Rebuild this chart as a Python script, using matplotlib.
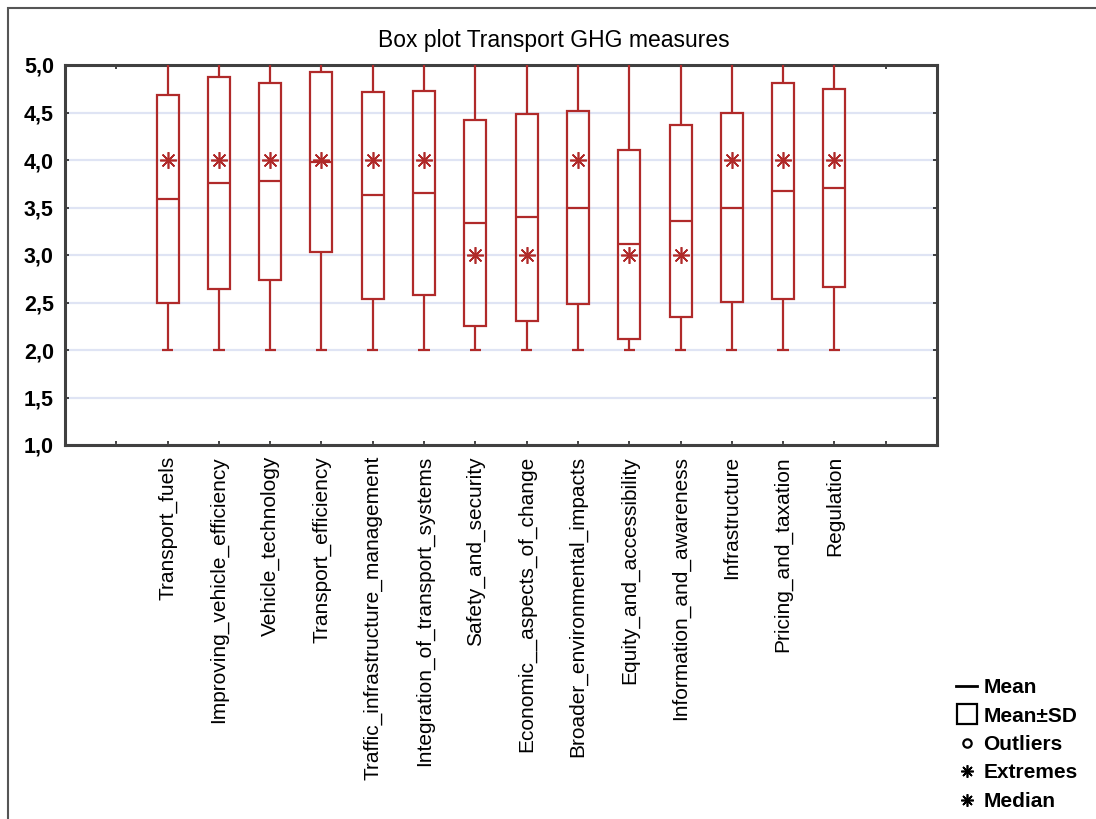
"""
Box plot of transport GHG measures (mean, mean±SD, min-max, median).
"""

import matplotlib.pyplot as plt
from matplotlib.lines import Line2D
from matplotlib.patches import Rectangle
from matplotlib.ticker import FuncFormatter

plt.rcParams['font.family'] = ['Liberation Sans', 'DejaVu Sans']

# Data
categories = [
    'Transport_fuels', 'Improving_vehicle_efficiency', 'Vehicle_technology',
    'Transport_efficiency', 'Traffic_infrastructure_management',
    'Integration_of_transport_systems', 'Safety_and_security',
    'Economic__aspects_of_change', 'Broader_environmental_impacts',
    'Equity_and_accessibility', 'Information_and_awareness',
    'Infrastructure', 'Pricing_and_taxation', 'Regulation',
]
means = [3.585, 3.755, 3.775, 3.98, 3.63, 3.655, 3.335,
         3.395, 3.50, 3.115, 3.36, 3.50, 3.675, 3.705]
sds = [1.095, 1.115, 1.035, 0.95, 1.09, 1.075, 1.085,
       1.085, 1.02, 0.995, 1.01, 0.99, 1.135, 1.045]
medians = [4, 4, 4, 4, 4, 4, 3, 3, 4, 3, 3, 4, 4, 4]
mins = [2] * 14
maxs = [5] * 14

RED = '#b02a2a'

fig = plt.figure(figsize=(10.96, 8.19), dpi=100)
ax = fig.add_axes([65 / 1096, 1 - 445 / 819, (937 - 65) / 1096, 380 / 819])

x = list(range(2, 2 + len(categories)))
lo = [m - s for m, s in zip(means, sds)]
hi = [m + s for m, s in zip(means, sds)]

# whiskers and caps
ax.vlines(x, mins, lo, color=RED, lw=1.6, zorder=3)
ax.vlines(x, hi, maxs, color=RED, lw=1.6, zorder=3)
ax.hlines(mins, [v - 0.11 for v in x], [v + 0.11 for v in x], color=RED, lw=1.6, zorder=3)

# mean ± SD boxes
ax.bar(x, [h - l for h, l in zip(hi, lo)], bottom=lo, width=0.43,
       fill=False, edgecolor=RED, lw=1.6, zorder=3)

# mean lines
ax.hlines(means, [v - 0.215 for v in x], [v + 0.215 for v in x], color=RED, lw=1.6, zorder=3)

# medians
ax.plot(x, medians, linestyle='none', marker=(8, 2, 0), markersize=12,
        markeredgewidth=1.2, color=RED, zorder=4)

ax.set_xlim(0, 17)
ax.set_ylim(1.0, 5.0)
ax.set_yticks([1.0, 1.5, 2.0, 2.5, 3.0, 3.5, 4.0, 4.5, 5.0])
ax.yaxis.set_major_formatter(FuncFormatter(lambda v, p: f'{v:.1f}'.replace('.', ',')))
ax.set_xticks(range(1, 17))
ax.set_xticklabels([''] + categories + [''], rotation=90, fontsize=15)
for lbl in ax.get_yticklabels():
    lbl.set_fontsize(15.5)
    lbl.set_fontweight('bold')

ax.tick_params(axis='both', direction='in', length=3, width=1.2,
               top=True, right=True, color='#222222')
ax.tick_params(axis='x', pad=8)
ax.tick_params(axis='y', pad=8)

ax.grid(True, axis='y', color='#dfe4f4', lw=1.6, zorder=0)
ax.set_axisbelow(True)
for sp in ax.spines.values():
    sp.set_color('#404040')
    sp.set_linewidth(2.2)

fig.text(554 / 1096, 1 - 40 / 819, 'Box plot Transport GHG measures',
         fontsize=16.5, ha='center', va='center')

# legend
handles = [
    Line2D([], [], color='k', lw=2),
    Line2D([], [], linestyle='none', marker='s', markersize=15,
           markerfacecolor='none', markeredgecolor='k', markeredgewidth=1.6),
    Line2D([], [], linestyle='none', marker='o', markersize=6,
           markerfacecolor='none', markeredgecolor='k', markeredgewidth=1.6),
    Line2D([], [], linestyle='none', marker=(8, 2, 0), markersize=9,
           color='k', markeredgewidth=1.2),
    Line2D([], [], linestyle='none', marker=(8, 2, 0), markersize=9,
           color='k', markeredgewidth=1.2),
]
labels = ['Mean', 'Mean±SD', 'Outliers', 'Extremes', 'Median']
fig.legend(handles, labels, loc='upper left', bbox_to_anchor=(948 / 1096, 1 - 670 / 819),
           frameon=False, handlelength=1.0, handletextpad=0.3, labelspacing=0.45,
           borderaxespad=0, prop={'size': 15, 'weight': 'bold'})

# outer frame
fig.patches.append(Rectangle((8 / 1096, -0.05), 1.2, 1 - 8 / 819 + 0.05,
                             transform=fig.transFigure, fill=False,
                             edgecolor='#555555', lw=1.5))

fig.savefig('out.png', dpi=100)
